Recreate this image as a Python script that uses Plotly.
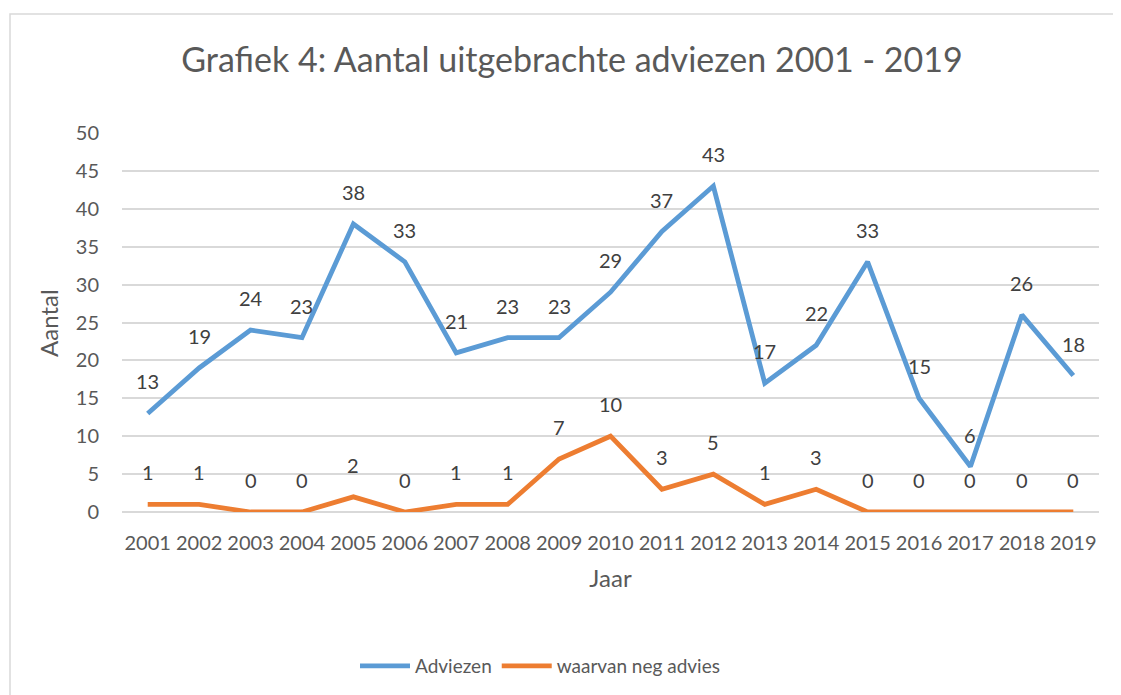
import plotly.graph_objects as go

years = list(range(2001, 2020))
adviezen = [13, 19, 24, 23, 38, 33, 21, 23, 23, 29, 37, 43, 17, 22, 33, 15, 6, 26, 18]
neg_advies = [1, 1, 0, 0, 2, 0, 1, 1, 7, 10, 3, 5, 1, 3, 0, 0, 0, 0, 0]

BLUE = "#5B9BD5"
ORANGE = "#ED7D31"
TXT = "#595959"
FONT = "Lato"
OFF = 8  # page body margin

fig = go.Figure()
fig.add_trace(go.Scatter(x=years, y=adviezen, mode="lines", name="Adviezen",
                         line=dict(color=BLUE, width=4.8)))
fig.add_trace(go.Scatter(x=years, y=neg_advies, mode="lines", name="waarvan neg advies",
                         line=dict(color=ORANGE, width=4.8)))

for series in (adviezen, neg_advies):
    for x, y in zip(years, series):
        fig.add_annotation(x=x, y=y, text=str(y), showarrow=False, yshift=32,
                           font=dict(family=FONT, size=20, color="#404040"))

# y axis title
fig.add_annotation(xref="paper", yref="paper", x=(48 - 122) / 977, y=(512 - 323) / 379,
                   text="Aantal", textangle=-90, showarrow=False, xanchor="center",
                   yanchor="middle", font=dict(family=FONT, size=24, color=TXT))

fig.add_shape(type="rect", xref="paper", yref="paper",
              x0=(10 - 122) / 977, x1=1.2, y0=-0.6, y1=(512 - 14) / 379,
              line=dict(color="#D9D9D9", width=1.5), fillcolor="rgba(0,0,0,0)", layer="below")

fig.update_layout(
    width=1121, height=695,
    margin=dict(l=122 - OFF, r=1121 - (1099 - OFF), t=133 - OFF, b=695 - (512 - OFF),
                autoexpand=False),
    paper_bgcolor="white", plot_bgcolor="white",
    font=dict(family=FONT, color=TXT, size=20),
    title=dict(text="Grafiek 4: Aantal uitgebrachte adviezen 2001 - 2019",
               x=(572 - OFF) / 1121, xanchor="center", y=1 - (60 - OFF) / 695, yanchor="middle",
               font=dict(family=FONT, size=34, color=TXT)),
    xaxis=dict(range=[2000.5, 2019.5], tickmode="array", tickvals=years,
               ticktext=[str(y) for y in years], showgrid=False, zeroline=False,
               showline=False, ticks="", ticklabelstandoff=17, tickfont=dict(size=20, color=TXT),
               title=dict(text="Jaar", font=dict(size=24, color=TXT), standoff=17)),
    yaxis=dict(range=[0, 50], dtick=5, showgrid=True, gridcolor="#D9D9D9", gridwidth=1.5,
               zeroline=True, zerolinecolor="#D9D9D9", zerolinewidth=1.5,
               showline=False, ticks="", ticklabelstandoff=22,
               tickfont=dict(size=20, color=TXT)),
    legend=dict(orientation="h", x=(540 - 122) / 977, xanchor="center", y=(512 - 666) / 379,
                yanchor="middle", font=dict(size=19, color=TXT), itemwidth=50,
                traceorder="normal"),
    showlegend=True,
)

fig.write_html("out.html")
